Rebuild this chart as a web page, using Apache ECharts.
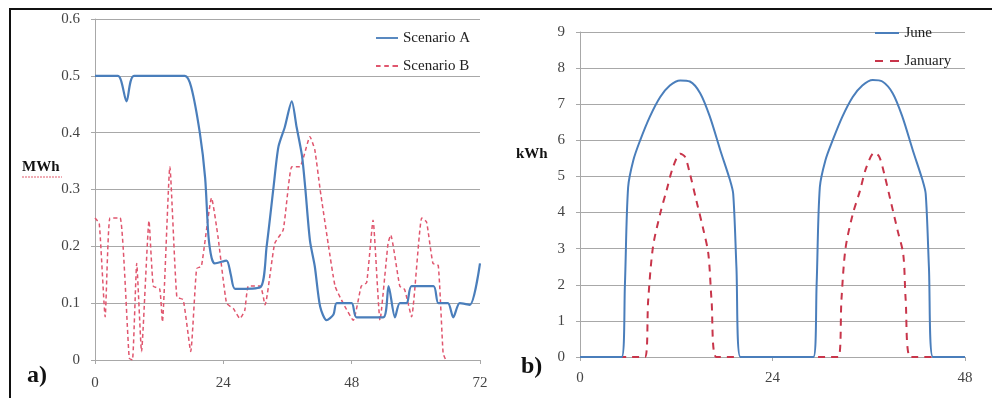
<!DOCTYPE html>
<html><head><meta charset="utf-8">
<script src="https://cdn.jsdelivr.net/npm/echarts@6/dist/echarts.min.js"></script>
<style>html,body{margin:0;padding:0;background:#fff}#c{width:992px;height:398px}</style>
</head><body><div id="c"></div>
<script>
// Panel a) hours and values
const aHours = [0,4.3,5.9,7.3,16.8,18,19.6,20.6,21.2,21.8,22.4,24.6,25.4,26.2,30.9,32.1,33.4,34.3,35.5,36.8,37.7,38.7,39.3,40.2,41.1,42.1,43.3,44.6,45.2,48,48.9,53.9,54.9,56.1,57,58.3,59.2,63.3,64.2,66,67,68.2,70.1,72];
const aValues = [0.5,0.5,0.455,0.5,0.5,0.48,0.4,0.32,0.22,0.18,0.17,0.175,0.15,0.125,0.128,0.2,0.305,0.375,0.41,0.455,0.41,0.36,0.305,0.21,0.165,0.094,0.07,0.08,0.1,0.1,0.075,0.075,0.13,0.075,0.1,0.1,0.13,0.13,0.1,0.1,0.075,0.1,0.097,0.17];
const bHours = [0,0.8,1.9,2.8,4.7,6.4,7.0,7.8,8.7,10.1,10.9,12.1,12.6,14.0,15.3,16.5,17.9,19.0,19.9,21.8,23.0,24.6,25.9,27.1,28.0,28.7,30.9,31.8,33.6,35.2,36.8,38.3,40.2,41.1,42.1,43.6,44.9,46.4,48.3,49.8,50.8,52.0,53.3,54.8,55.3,57.0,57.9,59.2,61.1,62.0,63.2,64.2,65.1,65.6];
const bValues = [0.25,0.24,0.076,0.25,0.25,0.003,0.0,0.17,0.015,0.245,0.13,0.125,0.067,0.34,0.111,0.106,0.015,0.161,0.165,0.285,0.217,0.1,0.09,0.073,0.087,0.13,0.13,0.097,0.205,0.229,0.34,0.34,0.393,0.37,0.3,0.205,0.13,0.1,0.07,0.13,0.136,0.246,0.07,0.205,0.22,0.13,0.124,0.076,0.25,0.243,0.17,0.166,0.012,0];
// Panel b)
const juneHours = [0,5.2,5.6,6.0,6.65,7.5,8.7,10.0,11.2,12.5,13.7,15.0,16.2,17.5,18.7,19.1,19.5,20.0,29.1,29.5,29.9,30.6,31.5,32.7,34.0,35.2,36.5,37.7,39.0,40.2,41.5,42.7,43.1,43.5,44.0,48];
const juneValues = [0,0,2.0,4.7,5.45,6.0,6.65,7.2,7.52,7.66,7.63,7.3,6.65,5.72,4.9,4.52,2.5,0,0,2.0,4.7,5.45,6.0,6.65,7.2,7.52,7.67,7.63,7.3,6.65,5.72,4.9,4.52,2.5,0,0];
const janHours = [0,8.1,8.5,9.1,10.0,10.8,11.6,12.5,13.1,13.7,14.5,15.4,16.0,16.4,17.0,32.2,32.6,33.1,34.0,34.9,35.7,36.7,37.3,37.9,38.7,39.6,40.3,40.6,41.2,48];
const janValues = [0,0,1.57,3.05,3.97,4.62,5.26,5.63,5.54,5.08,4.34,3.51,2.86,1.57,0,0,1.6,3.0,3.95,4.6,5.25,5.66,5.55,5.1,4.35,3.5,2.85,1.6,0,0];

const pair = (h, v) => h.map((x, i) => [x, v[i]]);
const serif = 'Liberation Serif';
const gridLine = {show:true, lineStyle:{color:'#a8a8a8', width:1}};
const axisLine = {show:true, lineStyle:{color:'#a8a8a8', width:1}};
const lbl = {fontFamily:serif, fontSize:15, color:'#444'};
const tick = {show:true, length:4, lineStyle:{color:'#a8a8a8'}};
const solidIcon = 'path://M0,0H24V2H0Z';
const shortDash = 'path://M0,0h5v2h-5z M9,0h5v2h-5z M18,0h6v2h-6z';
const longDash = 'path://M0,0h8v2h-8z M15,0h9v2h-9z';

const chart = echarts.init(document.getElementById('c'), null, {renderer:'canvas'});
chart.setOption({
  animation:false,
  backgroundColor:'#fff',
  grid:[
    {left:95, right:512, top:19, bottom:38},
    {left:580, right:27, top:32, bottom:41}
  ],
  xAxis:[
    {gridIndex:0, type:'value', min:0, max:72, interval:24, axisLine:axisLine, splitLine:{show:false},
     axisTick:tick, axisLabel:Object.assign({margin:16}, lbl)},
    {gridIndex:1, type:'value', min:0, max:48, interval:24, axisLine:axisLine, splitLine:{show:false},
     axisTick:tick, axisLabel:Object.assign({margin:14}, lbl)}
  ],
  yAxis:[
    {gridIndex:0, type:'value', min:0, max:0.6, interval:0.1, axisLine:axisLine, splitLine:gridLine,
     axisTick:tick, axisLabel:Object.assign({margin:15, formatter:v=>v===0?'0':v.toFixed(1)}, lbl)},
    {gridIndex:1, type:'value', min:0, max:9, interval:1, axisLine:axisLine, splitLine:gridLine,
     axisTick:tick, axisLabel:Object.assign({margin:15}, lbl)}
  ],
  legend:[
    {data:[{name:'Scenario A', icon:solidIcon},{name:'Scenario B', icon:shortDash}], left:376, top:29, padding:0,
     orient:'vertical', itemGap:10, itemWidth:22, itemHeight:2,
     textStyle:{fontFamily:serif, fontSize:15, color:'#222', lineHeight:18}},
    {data:[{name:'June', icon:solidIcon},{name:'January', icon:longDash}], left:875, top:24, padding:0,
     orient:'vertical', itemGap:10, itemWidth:25, itemHeight:2,
     textStyle:{fontFamily:serif, fontSize:15, color:'#222', lineHeight:18}}
  ],
  series:[
    {name:'Scenario A', type:'line', xAxisIndex:0, yAxisIndex:0, data:pair(aHours,aValues), symbol:'none', smooth:0.25,
     lineStyle:{color:'#4a7ebb', width:2.2}, itemStyle:{color:'#4a7ebb'}, z:3},
    {name:'Scenario B', type:'line', xAxisIndex:0, yAxisIndex:0, data:pair(bHours,bValues), symbol:'none', smooth:0.15,
     lineStyle:{color:'#e0566e', width:1.5, type:[4,3]}, itemStyle:{color:'#e0566e'}, z:2},
    {name:'June', type:'line', xAxisIndex:1, yAxisIndex:1, data:pair(juneHours,juneValues), symbol:'none', smooth:0.3,
     lineStyle:{color:'#4a7ebb', width:2}, itemStyle:{color:'#4a7ebb'}, z:3},
    {name:'January', type:'line', xAxisIndex:1, yAxisIndex:1, data:pair(janHours,janValues), symbol:'none', smooth:0.3,
     lineStyle:{color:'#c8354a', width:2, type:[7,6]}, itemStyle:{color:'#c8354a'}, z:2}
  ],
  graphic:[
    {type:'line', shape:{x1:9, y1:9, x2:992, y2:9}, style:{stroke:'#111', lineWidth:2}},
    {type:'line', shape:{x1:10, y1:8, x2:10, y2:398}, style:{stroke:'#111', lineWidth:2}},
    {type:'text', left:22, top:160, style:{text:'MWh', font:'bold 15px "Liberation Serif"', fill:'#111'}},
    {type:'line', shape:{x1:22, y1:177, x2:62, y2:177}, style:{stroke:'#e05a6a', lineWidth:1, lineDash:[2,1]}},
    {type:'text', left:516, top:147, style:{text:'kWh', font:'bold 15px "Liberation Serif"', fill:'#111'}},
    {type:'text', left:27, top:364, style:{text:'a)', font:'bold 24px "Liberation Serif"', fill:'#111'}},
    {type:'text', left:521, top:355, style:{text:'b)', font:'bold 24px "Liberation Serif"', fill:'#111'}}
  ]
});
</script></body></html>
